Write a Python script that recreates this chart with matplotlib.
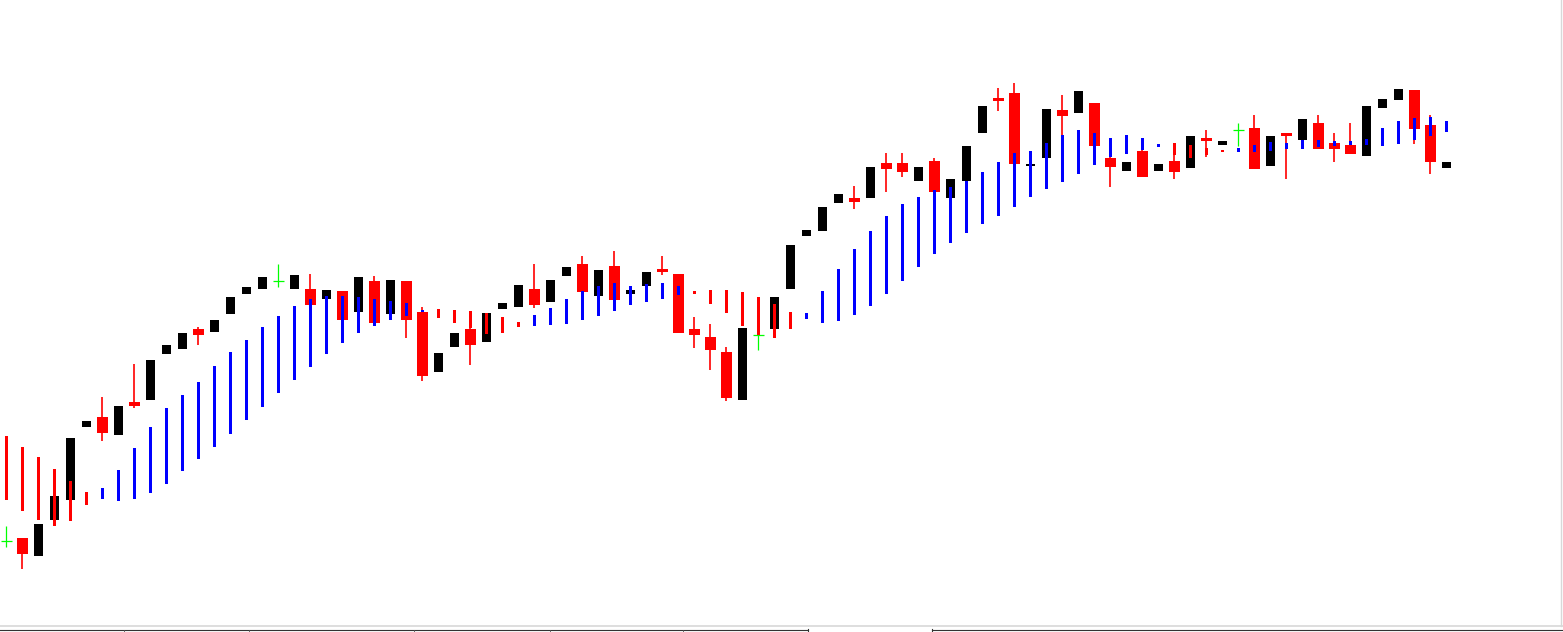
import numpy as np
import matplotlib.pyplot as plt
from matplotlib.lines import Line2D

# candle prices, one entry per bar (arbitrary price units)
opens = [91, 94, 76.3, 112.3, 132.3, 205.3, 215, 197.3, 230, 232.3,
         278.3, 283.3, 303, 300.3, 318.3, 338.3, 343.3, 350.7, 343.3, 343,
         333.3, 341, 320.3, 351, 318.3, 351, 320.3, 260.3, 285.3, 303,
         290.3, 323.3, 325.3, 343, 330.3, 356.3, 368, 336.3, 366, 338.3,
         346.3, 363, 358, 303, 295, 280, 232.3, 297.3, 303.3, 343.3,
         396.3, 401.3, 429.3, 434, 434.3, 469, 469, 451.3, 471, 434.3,
         451.3, 499.3, 534, 539, 466.3, 474.3, 522, 519.3, 529, 474,
         461.3, 481, 461.3, 471, 464.3, 494, 487.3, 501.7, 504, 466.3,
         499, 492.3, 509, 489, 487, 476.3, 524.3, 532.3, 542, 507,
         464.3]
closes = [91, 78.3, 108, 136, 194, 211, 199.3, 226, 226.3, 272,
          287, 299, 297.3, 312, 335, 345, 355, 350.7, 357, 327.3,
          342, 312.3, 355, 309.3, 352, 312.3, 256.3, 279, 299, 287.3,
          319, 329, 347, 327.3, 352, 365, 340.3, 362, 332.3, 342,
          360, 360.3, 299.3, 297.3, 282.3, 234.3, 304, 297.3, 335, 387,
          402, 425, 438, 430.3, 465, 463.3, 460.3, 465, 440.3, 453,
          486, 526, 531.3, 468.3, 468, 523, 516.3, 541, 486.3, 465.3,
          470, 455.3, 468, 460.3, 496, 491.3, 491, 501.7, 463.3, 496,
          496.3, 513, 483.3, 483.3, 478.3, 526, 533, 543, 503.3, 470.3,
          470]
highs = [106.3, 94, 108, 136, 194, 211, 235, 226, 268, 272,
         287, 299, 305, 312, 335, 345, 355, 368, 357, 358,
         342, 341, 355, 356, 352, 351, 325, 279, 299, 304.3,
         319, 329, 347, 368, 352, 365, 376, 362, 381, 342,
         360, 376, 358, 315, 308, 285, 304, 302, 335, 387,
         402, 425, 438, 446, 465, 479, 479, 465, 474, 453,
         486, 526, 544, 549, 468, 523, 537, 541, 529, 476,
         470, 483, 468, 477, 496, 502, 491, 509, 517, 496,
         499, 513, 517, 499, 509, 526, 533, 543, 542, 517,
         470]
lows = [85.3, 63.3, 76.3, 112.3, 132.3, 205.3, 191.3, 197.3, 224.3, 232.3,
        278.3, 283.3, 287.3, 300.3, 318.3, 338.3, 343.3, 345.3, 343.3, 327.3,
        333.3, 312.3, 320.3, 309.3, 318.3, 294.3, 251.3, 260.3, 285.3, 267.3,
        290.3, 323.3, 325.3, 324.3, 330.3, 356.3, 340.3, 336.3, 332.3, 338.3,
        346.3, 357.3, 299.3, 284.3, 262.3, 231.3, 232.3, 282.3, 303.3, 343.3,
        396.3, 401.3, 429.3, 423.3, 434.3, 440.3, 455.3, 451.3, 440.3, 434.3,
        451.3, 499.3, 521.3, 468.3, 466.3, 474.3, 497.3, 519.3, 486.3, 445.3,
        461.3, 455.3, 461.3, 453.3, 464.3, 475.3, 487.3, 486.3, 463.3, 466.3,
        453.3, 492.3, 483.3, 470.3, 478.3, 476.3, 524.3, 532.3, 488.3, 458.3,
        464.3]

# trend indicator: upper / lower value and direction (1 = up/blue, 0 = down/red)
ind_top = [196, 185, 175, 163, 151, 140, 144, 162, 184, 205,
           224, 237, 250, 266, 280, 292, 305, 316, 326, 333,
           336, 336, 335, 333, 331, 329, 322.3, 323, 322, 321,
           319, 315, 310, 317, 324, 333, 341, 346, 349, 346,
           348, 349, 346, 341, 342, 342, 340, 335, 328, 320,
           319, 341, 363, 383, 401, 416, 428, 435, 442, 445,
           451, 460, 470, 479, 481, 489, 497, 502, 499, 494,
           497, 494, 488, 489, 487, 484, 482.3, 484, 487, 490,
           489, 492, 492, 491, 491, 493, 504, 511, 514, 515,
           511]
ind_bot = [132.3, 121.3, 112.3, 106.3, 111.3, 127.3, 133.3, 131.3, 133.3, 139.3,
           148.3, 161.3, 173.3, 185.3, 198.3, 212.3, 225.3, 239.3, 252.3, 265.3,
           278.3, 289.3, 299.3, 306.3, 312.3, 316.3, 320.3, 314.3, 309.3, 304.3,
           298.3, 299.3, 305.3, 306.3, 307.3, 308.3, 312.3, 316.3, 321.3, 327.3,
           330.3, 333.3, 337.3, 338.3, 328.3, 319.3, 306.3, 297.3, 294.3, 303.3,
           313.3, 309.3, 311.3, 317.3, 326.3, 338.3, 351.3, 365.3, 378.3, 389.3,
           399.3, 408.3, 416.3, 425.3, 435.3, 443.3, 450.3, 458.3, 467.3, 475.3,
           478.3, 482.3, 485.3, 477, 474.3, 477.3, 480.3, 480.3, 480.3, 481.3,
           483.3, 483.3, 485.3, 486.3, 487.3, 487.3, 486.3, 488.3, 492.3, 496.3,
           500.3]
ind_dir = [0, 0, 0, 0, 0, 0, 1, 1, 1, 1,
           1, 1, 1, 1, 1, 1, 1, 1, 1, 1,
           1, 1, 1, 1, 1, 1, 1, 0, 0, 0,
           0, 0, 0, 1, 1, 1, 1, 1, 1, 1,
           1, 1, 1, 0, 0, 0, 0, 0, 0, 0,
           1, 1, 1, 1, 1, 1, 1, 1, 1, 1,
           1, 1, 1, 1, 1, 1, 1, 1, 1, 1,
           1, 1, 1, 0, 0, 0, 0, 1, 1, 1,
           1, 1, 1, 1, 1, 1, 1, 1, 1, 1,
           1]

W, H = 1563, 632
fig = plt.figure(figsize=(W / 100, H / 100), dpi=100)
ax = fig.add_axes([0, 0, 1, 1])
ax.set_axis_off()

o = np.array(opens)
c = np.array(closes)
hi = np.array(highs)
lo = np.array(lows)
x = np.arange(len(o))
px = 1 / 16.0  # one pixel in bar units

up = c > o
down = c < o
doji = c == o

# bull candles: plain black bodies
ax.bar(x[up], (c - o)[up], bottom=o[up], width=9 * px, color='black', zorder=2)

# bear candles: red body with wick
ax.vlines(x[down], lo[down], hi[down], color='red', linewidth=1.2, zorder=2)
ax.bar(x[down], (o - c)[down], bottom=c[down], width=11 * px, color='red', zorder=2)

# doji: green cross
ax.vlines(x[doji], lo[doji], hi[doji], color='#00ff00', linewidth=0.9, zorder=2)
ax.hlines(o[doji], x[doji] - 5.5 * px, x[doji] + 5.5 * px, color='#00ff00', linewidth=0.9, zorder=2)

# indicator bars on top
top = np.array(ind_top)
bot = np.array(ind_bot)
cols = ['#0000ff' if d else '#ff0000' for d in ind_dir]
ax.bar(x, top - bot, bottom=bot, width=3 * px, color=cols, zorder=3)

ax.set_xlim(-6 * px, (W - 6) * px)
ax.set_ylim(0, H)

# window frame and tab strip at the bottom
def fy(y):
    return 1 - y / H

def fx(xp):
    return xp / W

fig.add_artist(Line2D([0, 1], [fy(626), fy(626)], color='#d8d8d8', linewidth=1.2))
fig.add_artist(Line2D([fx(1561), fx(1561)], [fy(626), 1], color='#d8d8d8', linewidth=1.0))
fig.add_artist(Line2D([0, fx(808)], [fy(629.5), fy(629.5)], color='#333333', linewidth=0.8))
fig.add_artist(Line2D([fx(932), 1], [fy(629.5), fy(629.5)], color='#333333', linewidth=0.8))
for t in [124, 249, 414, 550, 683]:
    fig.add_artist(Line2D([fx(t), fx(t)], [0, fy(630)], color='#555555', linewidth=0.6))
for t in [808, 932]:
    fig.add_artist(Line2D([fx(t), fx(t)], [0, fy(629)], color='#333333', linewidth=0.8))

fig.savefig('out.png', dpi=100, facecolor='white')
